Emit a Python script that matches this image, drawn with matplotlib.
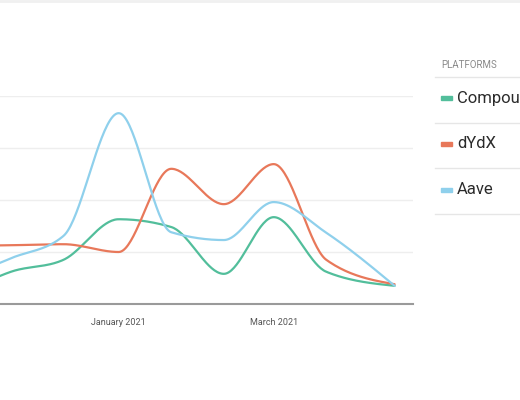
import numpy as np
import pandas as pd
import matplotlib
matplotlib.use("Agg")
import matplotlib.pyplot as plt
import matplotlib.dates as mdates

plt.rcParams['font.family'] = ['Roboto', 'DejaVu Sans']

# data (one gridline = 100)
dates = pd.to_datetime(["2020-11-01", "2020-11-21", "2020-12-11", "2021-01-01",
                        "2021-01-21", "2021-02-10", "2021-03-01", "2021-03-21",
                        "2021-04-16"])
compound = [15, 62, 85, 163, 148, 58, 167, 62, 35]
dydx = [112, 113, 115, 100, 260, 192, 269, 85, 38]
aave = [46, 88, 131, 367, 138, 123, 196, 137, 35]

platforms = ["Compound", "dYdX", "Aave"]
series = [compound, dydx, aave]
colors = ["#52be9b", "#e8785a", "#8fd0ec"]


def monotone(x, y, n=40):
    # monotone cubic (same as d3 curveMonotoneX)
    x = np.asarray(x, float)
    y = np.asarray(y, float)
    h = np.diff(x)
    s = np.diff(y) / h
    m = np.zeros(len(x))
    for i in range(1, len(x) - 1):
        p = (s[i - 1] * h[i] + s[i] * h[i - 1]) / (h[i - 1] + h[i])
        m[i] = (np.sign(s[i - 1]) + np.sign(s[i])) * min(abs(s[i - 1]), abs(s[i]), 0.5 * abs(p))
    m[0] = (3 * s[0] - m[1]) / 2
    m[-1] = (3 * s[-1] - m[-2]) / 2
    xs, ys = [], []
    for i in range(len(x) - 1):
        t = np.linspace(0, 1, n)
        h00 = 2 * t**3 - 3 * t**2 + 1
        h10 = t**3 - 2 * t**2 + t
        h01 = -2 * t**3 + 3 * t**2
        h11 = t**3 - t**2
        xs.append(x[i] + t * h[i])
        ys.append(h00 * y[i] + h10 * h[i] * m[i] + h01 * y[i + 1] + h11 * h[i] * m[i + 1])
    return np.concatenate(xs), np.concatenate(ys)


fig = plt.figure(figsize=(5.2, 4.0), dpi=100)
# plot area runs off the left edge of the picture
ax = fig.add_axes([-60 / 520, 96 / 400, 473 / 520, 208 / 400])

xnum = mdates.date2num(dates)
for vals, c in zip(series, colors):
    xs, ys = monotone(xnum, vals)
    ax.plot(xs, ys, color=c, lw=1.6, solid_capstyle='round', zorder=3)

ax.set_xlim(mdates.date2num(pd.Timestamp("2020-10-25")),
            mdates.date2num(pd.Timestamp("2021-04-23")))
ax.set_ylim(0, 400)
ax.set_yticks([0, 100, 200, 300, 400])
ax.yaxis.grid(True, color="#eeeeee", lw=1)
ax.set_axisbelow(True)
ax.tick_params(axis='y', length=0, labelleft=False)

ax.xaxis.set_major_locator(mdates.MonthLocator(bymonth=[1, 3]))
ax.xaxis.set_major_formatter(mdates.DateFormatter("%B %Y"))
ax.tick_params(axis='x', length=0, labelsize=6.5, colors="#555555", pad=10)

for side in ["top", "right", "left"]:
    ax.spines[side].set_visible(False)
ax.spines["bottom"].set_color("#9a9a9a")
ax.spines["bottom"].set_linewidth(1.5)

# legend panel on the right
fig.text(441 / 520, 1 - 65 / 400, "PLATFORMS", fontsize=7, color="#8a8a8a",
         va="center", ha="left")
for yy in [77, 123, 168, 214]:
    fig.add_artist(plt.Line2D([435 / 520, 1.0], [1 - yy / 400] * 2,
                              color="#e6e6e6", lw=1))
for name, c, yy in zip(platforms, colors, [98, 144, 190]):
    fig.add_artist(plt.Rectangle((441 / 520, 1 - (yy + 2) / 400), 11 / 520, 4 / 400,
                                 color=c))
    fig.text(457 / 520, 1 - yy / 400, name, fontsize=12, color="#2b2b2b",
             va="center", ha="left")

# faint card edge at the top
fig.add_artist(plt.Line2D([0, 1], [1 - 1 / 400] * 2, color="#f0f0f0", lw=2))

fig.savefig("out.png", dpi=100)
